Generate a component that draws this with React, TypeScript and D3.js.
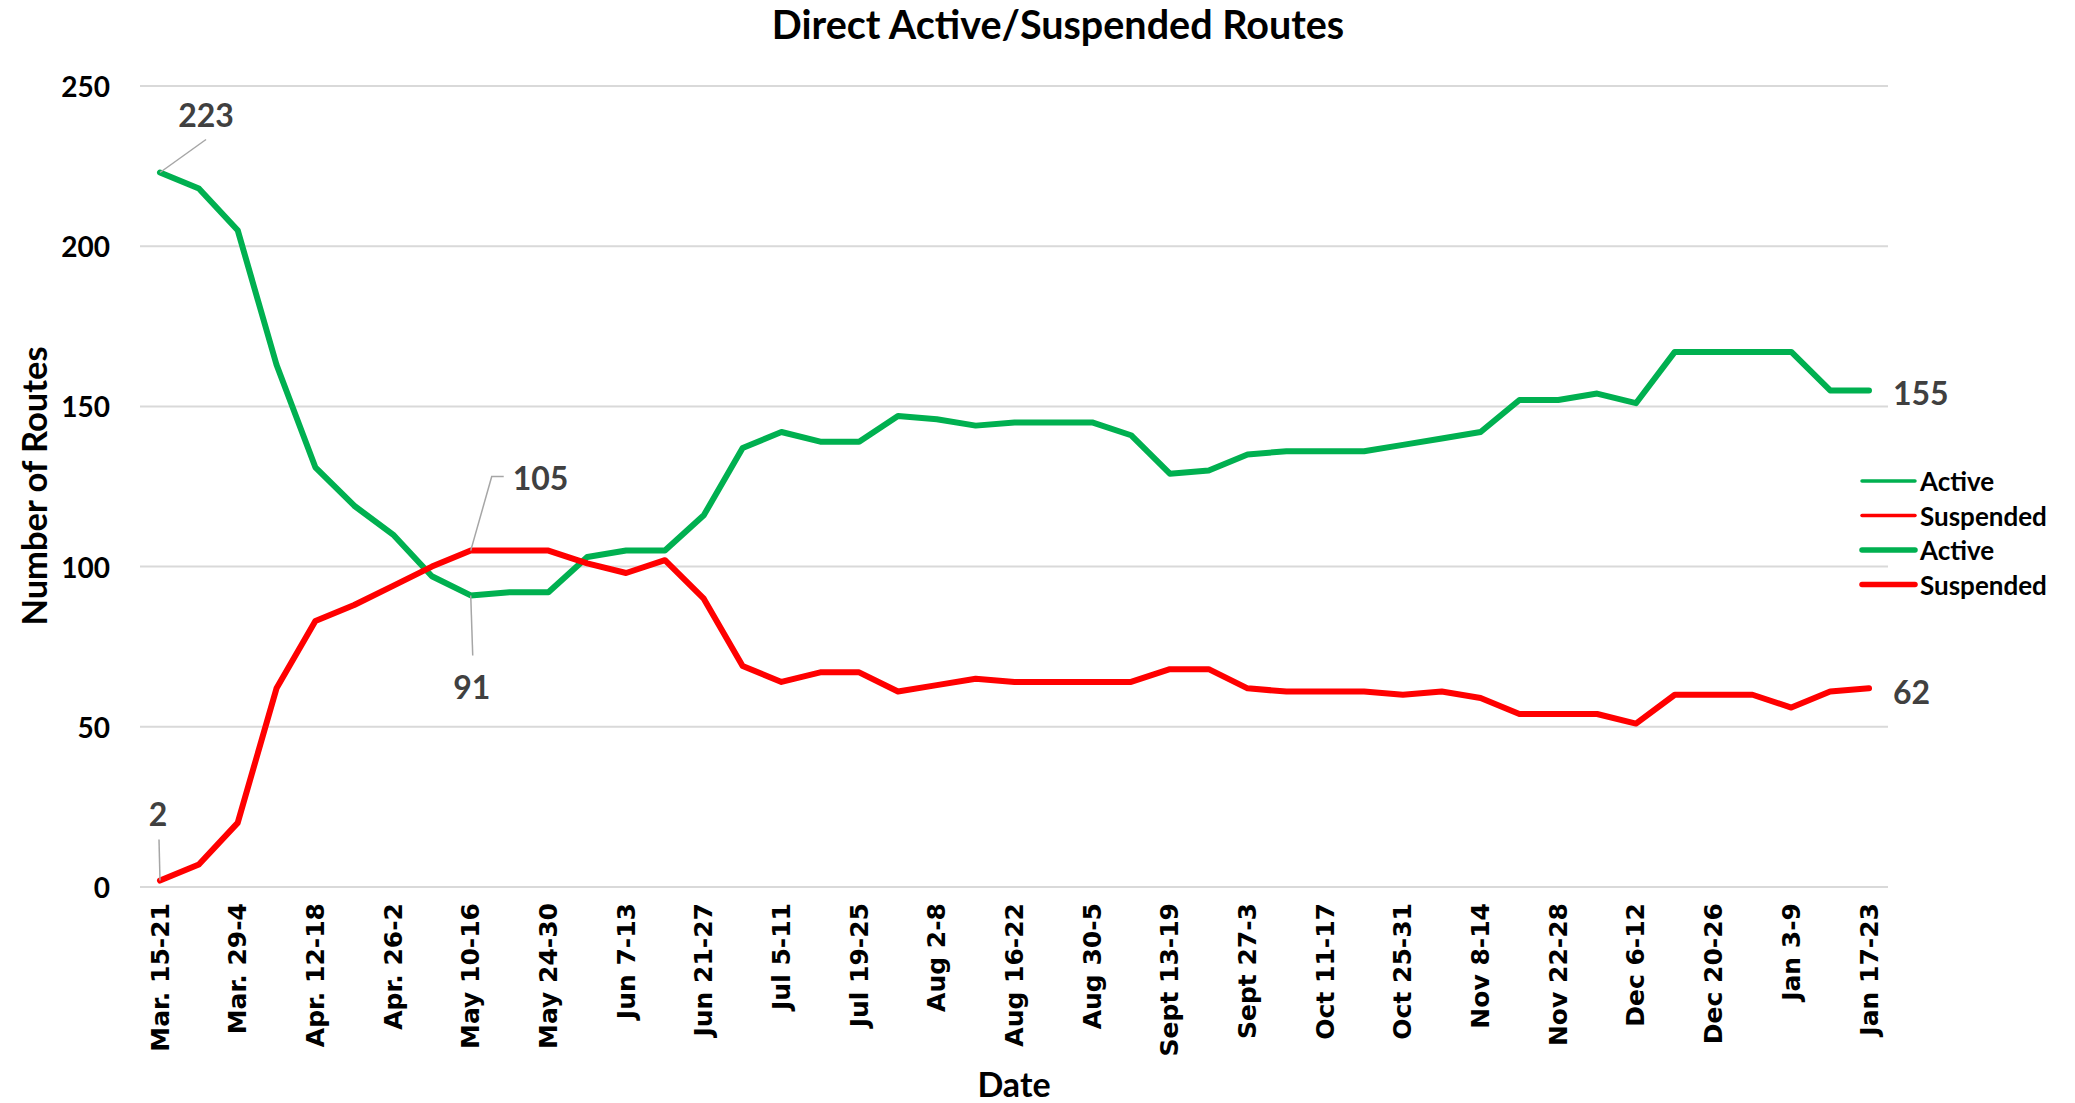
import * as d3 from "d3";
import React from "react";

const weeks = [
  "Mar. 15-21", "Mar. 22-28", "Mar. 29-4", "Apr. 5-11", "Apr. 12-18", "Apr. 19-25",
  "Apr. 26-2", "May 3-9", "May 10-16", "May 17-23", "May 24-30", "May 31-6",
  "Jun 7-13", "Jun 14-20", "Jun 21-27", "Jun 28-4", "Jul 5-11", "Jul 12-18",
  "Jul 19-25", "Jul 26-1", "Aug 2-8", "Aug 9-15", "Aug 16-22", "Aug 23-29",
  "Aug 30-5", "Sept 6-12", "Sept 13-19", "Sept 20-26", "Sept 27-3", "Oct 4-10",
  "Oct 11-17", "Oct 18-24", "Oct 25-31", "Nov 1-7", "Nov 8-14", "Nov 15-21",
  "Nov 22-28", "Nov 29-5", "Dec 6-12", "Dec 13-19", "Dec 20-26", "Dec 27-2",
  "Jan 3-9", "Jan 10-16", "Jan 17-23",
];

const active = [
  223, 218, 205, 163, 131, 119, 110, 97, 91, 92, 92, 103, 105, 105, 116, 137,
  142, 139, 139, 147, 146, 144, 145, 145, 145, 141, 129, 130, 135, 136, 136, 136,
  138, 140, 142, 152, 152, 154, 151, 167, 167, 167, 167, 155, 155,
];

const suspended = [
  2, 7, 20, 62, 83, 88, 94, 100, 105, 105, 105, 101, 98, 102, 90, 69,
  64, 67, 67, 61, 63, 65, 64, 64, 64, 64, 68, 68, 62, 61, 61, 61,
  60, 61, 59, 54, 54, 54, 51, 60, 60, 60, 56, 61, 62,
];

const yTicks = [0, 50, 100, 150, 200, 250];

const legendItems = [
  { name: "Active", color: "#00b050", width: 3.5 },
  { name: "Suspended", color: "#ff0000", width: 3.5 },
  { name: "Active", color: "#00b050", width: 5.5 },
  { name: "Suspended", color: "#ff0000", width: 5.5 },
];

const W = 2075;
const H = 1103;
const calibri = "Lato, 'Open Sans', sans-serif";
const verdana = "'DejaVu Sans', Verdana, sans-serif";

export default function App() {
  const x = d3.scalePoint<string>().domain(weeks).range([160, 1869]);
  const y = d3.scaleLinear().domain([0, 250]).range([887, 86]);

  const line = d3
    .line<number>()
    .x((_, i) => x(weeks[i])!)
    .y((d) => y(d));

  const px = (i: number) => x(weeks[i])!;
  const last = weeks.length - 1;
  const minIdx = active.indexOf(d3.min(active)!);
  const maxSuspIdx = suspended.indexOf(d3.max(suspended)!);

  return (
    <svg
      width={W}
      height={H}
      style={{ position: "absolute", left: 0, top: 0, background: "#fff" }}
    >
      <text
        x={1058}
        y={39}
        textAnchor="middle"
        fontFamily={calibri}
        fontWeight="bold"
        fontSize={39.5}
      >
        Direct Active/Suspended Routes
      </text>

      {/* gridlines + y labels */}
      {yTicks.map((t) => (
        <g key={t}>
          <line x1={140} x2={1888} y1={y(t)} y2={y(t)} stroke="#d9d9d9" strokeWidth={2} />
          <text
            x={110}
            y={y(t)}
            textAnchor="end"
            dominantBaseline="central"
            fontFamily={calibri}
            fontWeight="bold"
            fontSize={28}
          >
            {t}
          </text>
        </g>
      ))}

      {/* x labels, every other week */}
      {weeks.map((w, i) =>
        i % 2 === 0 ? (
          <text
            key={w}
            transform={`translate(${px(i)},903) rotate(-90)`}
            textAnchor="end"
            dominantBaseline="central"
            fontFamily={verdana}
            fontWeight="bold"
            fontSize={25}
          >
            {w}
          </text>
        ) : null
      )}

      <text
        transform="translate(33,486) rotate(-90)"
        textAnchor="middle"
        dominantBaseline="central"
        fontFamily={calibri}
        fontWeight="bold"
        fontSize={34.5}
      >
        Number of Routes
      </text>
      <text
        x={1014}
        y={1097}
        textAnchor="middle"
        fontFamily={calibri}
        fontWeight="bold"
        fontSize={34}
      >
        Date
      </text>

      {/* series */}
      <path d={line(active)!} fill="none" stroke="#00b050" strokeWidth={6} strokeLinejoin="round" strokeLinecap="round" />
      <path d={line(suspended)!} fill="none" stroke="#ff0000" strokeWidth={6} strokeLinejoin="round" strokeLinecap="round" />

      {/* data labels with leader lines */}
      <g fontFamily={calibri} fontWeight="bold" fontSize={32} fill="#404040">
        <line x1={px(0)} y1={y(active[0])} x2={px(0) + 46} y2={y(active[0]) - 33} stroke="#a6a6a6" strokeWidth={1.5} />
        <text x={px(0) + 46} y={y(active[0]) - 58} textAnchor="middle" dominantBaseline="central">
          {active[0]}
        </text>

        <line x1={px(0)} y1={y(suspended[0])} x2={px(0) - 1} y2={y(suspended[0]) - 41} stroke="#a6a6a6" strokeWidth={1.5} />
        <text x={px(0) - 2} y={y(suspended[0]) - 67} textAnchor="middle" dominantBaseline="central">
          {suspended[0]}
        </text>

        <line x1={px(minIdx)} y1={y(active[minIdx])} x2={px(minIdx) + 2} y2={y(active[minIdx]) + 60} stroke="#a6a6a6" strokeWidth={1.5} />
        <text x={px(minIdx) + 1} y={y(active[minIdx]) + 91} textAnchor="middle" dominantBaseline="central">
          {active[minIdx]}
        </text>

        <polyline
          points={`${px(maxSuspIdx)},${y(suspended[maxSuspIdx])} ${px(maxSuspIdx) + 21},${y(suspended[maxSuspIdx]) - 74} ${px(maxSuspIdx) + 33},${y(suspended[maxSuspIdx]) - 74}`}
          fill="none"
          stroke="#a6a6a6"
          strokeWidth={1.5}
        />
        <text x={px(maxSuspIdx) + 42} y={y(suspended[maxSuspIdx]) - 73} dominantBaseline="central">
          {suspended[maxSuspIdx]}
        </text>

        <text x={px(last) + 24} y={y(active[last]) + 2} dominantBaseline="central">
          {active[last]}
        </text>
        <text x={px(last) + 24} y={y(suspended[last]) + 3} dominantBaseline="central">
          {suspended[last]}
        </text>
      </g>

      {/* legend */}
      {legendItems.map((item, i) => (
        <g key={i} transform={`translate(0,${481 + i * 34.5})`}>
          <line x1={1862} x2={1915} y1={0} y2={0} stroke={item.color} strokeWidth={item.width} strokeLinecap="round" />
          <text x={1920} y={0} dominantBaseline="central" fontFamily={calibri} fontWeight="bold" fontSize={26}>
            {item.name}
          </text>
        </g>
      ))}
    </svg>
  );
}
